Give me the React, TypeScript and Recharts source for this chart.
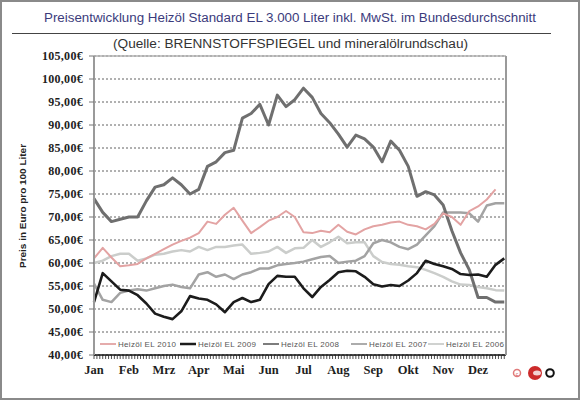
import React from 'react';
import { LineChart, Line, XAxis, YAxis, CartesianGrid, ReferenceLine, Legend } from 'recharts';

const MONTHS = ['Jan', 'Feb', 'Mrz', 'Apr', 'Mai', 'Jun', 'Jul', 'Aug', 'Sep', 'Okt', 'Nov', 'Dez'];
const Y_TICKS = [40, 45, 50, 55, 60, 65, 70, 75, 80, 85, 90, 95, 100, 105];

// four readings per month, Jan .. Dez
const s2010 = [61, 63.3, 61.2, 59.3, 59.5, 59.8, 61, 62, 63, 64, 64.8, 65.5, 66.5, 69, 68.5, 70.5,
  72, 69.2, 66.5, 67.8, 69.2, 70, 71.3, 70, 66.7, 66.5, 67, 66.7, 68.3, 66.8, 66.2, 67.3,
  68, 68.3, 68.8, 69, 68.3, 68, 67.3, 68.5, 70.8, 70, 68.3, 71.3, 72.3, 73.8, 76, null];
const s2009 = [51.5, 57.8, 56, 54.2, 54, 53, 51.2, 49, 48.3, 47.8, 49.5, 52.8, 52.3, 52, 51, 49.3,
  51.5, 52.4, 51.5, 52, 55.4, 57.2, 57, 57, 54.5, 52.6, 54.8, 56.3, 58, 58.3, 58.2, 57,
  55.4, 54.9, 55.2, 55, 56.2, 57.8, 60.5, 59.8, 59.3, 58.7, 57.6, 57.4, 57.5, 57, 59.6, 61];
const s2008 = [74, 71, 69, 69.5, 70, 70, 73.5, 76.5, 77, 78.5, 77, 75, 76, 81, 82, 84,
  84.5, 91.5, 92.5, 94.5, 90, 96.5, 94, 95.5, 98, 96, 92.5, 90.5, 88, 85.2, 87.8, 87,
  85.2, 82, 86.5, 84.5, 81, 74.5, 75.5, 74.8, 72.6, 67, 62.2, 58.5, 52.5, 52.5, 51.5, 51.5];
const s2007 = [55.5, 52, 51.5, 53.5, 54, 54.3, 54, 54.5, 55, 55.3, 54.8, 54.5, 57.5, 58, 57, 57.5,
  56.5, 57.5, 58, 58.8, 58.8, 59.5, 59.8, 60, 60.3, 60.8, 61.3, 61.5, 60, 60.3, 60.5, 61.5,
  64.3, 65, 64.5, 63.5, 63, 64, 66, 68, 71, 71, 71, 70.8, 69, 72.5, 73, 73];
const s2006 = [60, 60.5, 61.5, 62, 62, 60.5, 61, 61.8, 62, 62.5, 62.8, 62.5, 63.5, 62.8, 63.5, 63.5,
  63.8, 64, 62, 62.2, 62.5, 63.5, 62.2, 63.2, 63.3, 65, 63.5, 64.5, 65.7, 64.3, 64.5, 64.5,
  61.5, 60.2, 59.8, 59.6, 59.3, 59.1, 58.5, 57.8, 57, 56, 55.3, 55.2, 54.8, 54.5, 54.1, 54];

const SERIES = [
  { key: 'y2010', name: 'Heizöl EL 2010', color: '#e3a3a3', width: 2, values: s2010 },
  { key: 'y2009', name: 'Heizöl EL 2009', color: '#1c1c1c', width: 2.6, values: s2009 },
  { key: 'y2008', name: 'Heizöl EL 2008', color: '#6f6f6f', width: 3, values: s2008 },
  { key: 'y2007', name: 'Heizöl EL 2007', color: '#a3a3a3', width: 2.5, values: s2007 },
  { key: 'y2006', name: 'Heizöl EL 2006', color: '#cbcdcb', width: 2.5, values: s2006 },
];
const DRAW_ORDER = ['y2006', 'y2007', 'y2008', 'y2010', 'y2009'];
const LEGEND_X = [4, 84, 167, 255, 332];

const data = s2008.map((_, i) => {
  const row: any = { idx: i };
  SERIES.forEach((s) => { row[s.key] = s.values[i]; });
  return row;
});

const X_TICKS = Array.from({ length: 142 }, (_, i) => i / 3);

const fmtEuro = (v: number) => v.toFixed(2).replace('.', ',') + '€';

const yTickStyle = {
  fill: '#1e1e1e', fontSize: 12, fontWeight: 700, fontFamily: '"Liberation Serif", serif', letterSpacing: 0.3,
};

const XTick = (props: any) => {
  const { x, y, payload } = props;
  const k = Math.round(payload.value * 3);
  if (k % 12 !== 0) return <g />;
  return (
    <text x={x} y={y + 13} textAnchor="middle" fontSize={12.5} fontWeight={700}
      fontFamily='"Liberation Serif", serif' fill="#1e1e1e">{MONTHS[k / 12]}</text>
  );
};

const LegendContent = () => (
  <div style={{ position: 'relative', width: 412, height: 12 }}>
    {SERIES.map((s, i) => (
      <div key={s.key} style={{ position: 'absolute', left: LEGEND_X[i], top: 0, height: 12, display: 'flex', alignItems: 'center' }}>
        <svg width={16} height={4}><line x1={0} y1={2} x2={16} y2={2} stroke={s.color} strokeWidth={s.key === 'y2009' ? 2.5 : 1.8} /></svg>
        <span style={{ fontSize: 8, marginLeft: 2, color: '#555', fontFamily: '"Liberation Sans", Arial, sans-serif', letterSpacing: 0.3, whiteSpace: 'nowrap' }}>{s.name}</span>
      </div>
    ))}
  </div>
);

export default function App() {
  return (
    <div style={{ position: 'absolute', left: 0, top: 0, width: 580, height: 400, background: '#fff', overflow: 'hidden' }}>
      <LineChart width={580} height={400} data={data} margin={{ top: 56, right: 0, bottom: 15, left: 0 }}
        style={{ position: 'absolute', left: 0, top: 0 }}>
        <CartesianGrid yAxisId="left" horizontal vertical={false} stroke="#3a3a3a" strokeDasharray="2 2" strokeWidth={0.8} />
        <XAxis dataKey="idx" type="number" domain={[0, 47.2]} ticks={X_TICKS} interval={0} height={30}
          axisLine={{ stroke: '#111', strokeWidth: 1.5 }} tickLine={{ stroke: '#222', strokeWidth: 0.8 }} tickSize={4} tickMargin={2}
          tick={<XTick />} />
        <YAxis yAxisId="left" domain={[40, 105]} ticks={Y_TICKS} interval={0} width={94} tickFormatter={fmtEuro}
          axisLine={{ stroke: '#9a9a9a', strokeWidth: 2 }} tickLine={{ stroke: '#777' }} tickSize={5} tickMargin={6} tick={yTickStyle} />
        <YAxis yAxisId="right" orientation="right" domain={[40, 105]} ticks={Y_TICKS} interval={0} width={74} tickFormatter={fmtEuro}
          axisLine={{ stroke: '#9a9a9a', strokeWidth: 2 }} tickLine={{ stroke: '#777' }} tickSize={5} tickMargin={6} tick={yTickStyle} />
        <ReferenceLine yAxisId="left" y={105} stroke="#b0b0b0" strokeWidth={1.5} />
        {DRAW_ORDER.map((k) => {
          const s = SERIES.find((q) => q.key === k)!;
          return (
            <Line key={k} yAxisId="left" type="linear" dataKey={k} name={s.name} stroke={s.color} strokeWidth={s.width}
              dot={false} activeDot={false} isAnimationActive={false} connectNulls={false} strokeLinejoin="round" />
          );
        })}
        <Legend layout="horizontal" verticalAlign="middle" align="center" content={<LegendContent />}
          wrapperStyle={{ left: 96, top: 338, width: 412, height: 12 }} />
      </LineChart>
      <svg width={580} height={400} style={{ position: 'absolute', left: 0, top: 0, pointerEvents: 'none' }}>
        <rect x={1} y={1} width={578} height={398} fill="none" stroke="#8a8a8a" strokeWidth={2} />
        <text x={44} y={22} fontSize={12.5} fill="#3b3b7c" fontFamily='"Liberation Sans", Arial, sans-serif'
          textLength={492} lengthAdjust="spacingAndGlyphs">Preisentwicklung  Heizöl  Standard EL 3.000 Liter inkl.  MwSt. im Bundesdurchschnitt</text>
        <line x1={12} y1={33.5} x2={551} y2={33.5} stroke="#444" strokeWidth={1} />
        <text x={113} y={48} fontSize={12.5} fill="#333" fontFamily='"Liberation Sans", Arial, sans-serif'
          textLength={355} lengthAdjust="spacingAndGlyphs">(Quelle: BRENNSTOFFSPIEGEL  und mineralölrundschau)</text>
        <text transform="translate(26,206) rotate(-90)" textAnchor="middle" fontSize={8.5} fontWeight={700} fill="#222"
          fontFamily='"Liberation Sans", Arial, sans-serif' textLength={124} lengthAdjust="spacingAndGlyphs">Preis in Euro pro 100 Liter</text>
        <circle cx={517} cy={373} r={3.5} fill="#fff" stroke="#e07a7a" strokeWidth={1.5} />
        <text x={517} y={375.5} textAnchor="middle" fontSize={5} fill="#d05050" fontFamily="Arial">c</text>
        <circle cx={535} cy={373} r={7} fill="#cc2b2b" />
        <ellipse cx={537} cy={373} rx={4} ry={2.5} fill="#f2d2d2" />
        <circle cx={550} cy={373} r={3.8} fill="none" stroke="#111" strokeWidth={2} />
      </svg>
    </div>
  );
}
